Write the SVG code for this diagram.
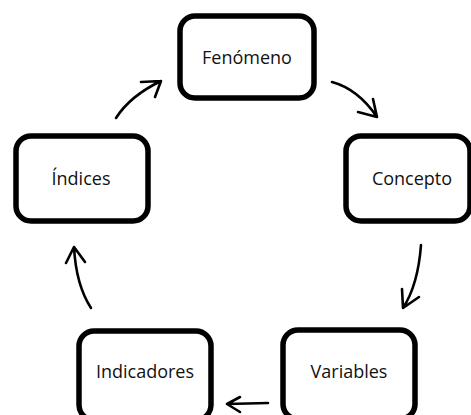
<svg xmlns="http://www.w3.org/2000/svg" width="471" height="415" viewBox="0 0 471 415">
<style>
.box{fill:#fff;stroke:#000;stroke-width:5.5}
.lbl{font-family:"Open Sans","Noto Sans",sans-serif;font-size:18px;fill:#111;text-anchor:middle}
.arr{fill:none;stroke:#000;stroke-width:2.6;stroke-linecap:round;stroke-linejoin:round}
</style>
<rect width="471" height="415" fill="#fff"/>
<g id="connectors">
<path class="arr" d="M332,82 Q358,89 377,117 M358,112 L377,117 L373,99"/>
<path class="arr" d="M421,245 Q418,285 403,308 M402,289 L403,308 L419,297"/>
<path class="arr" d="M268,403 L227,404 M240,397 L227,404 L240,412"/>
<path class="arr" d="M91,308 Q76,285 74,247 M66,263 L74,247 L85,262"/>
<path class="arr" d="M116,118 Q130,96 161,81 M141,82 L161,81 L155,97"/>
</g>
<g id="fenomeno">
<rect class="box" x="180" y="16" width="134" height="82" rx="15"/>
<text class="lbl" x="247" y="64">Fenómeno</text>
</g>
<g id="concepto">
<rect class="box" x="346" y="136" width="124" height="85" rx="15"/>
<text class="lbl" x="412" y="185">Concepto</text>
</g>
<g id="variables">
<rect class="box" x="283" y="330" width="132" height="89" rx="15"/>
<text class="lbl" x="349" y="378">Variables</text>
</g>
<g id="indicadores">
<rect class="box" x="79" y="331" width="132" height="89" rx="15"/>
<text class="lbl" x="145" y="378">Indicadores</text>
</g>
<g id="indices">
<rect class="box" x="16" y="136" width="132" height="85" rx="15"/>
<text class="lbl" x="81" y="185">Índices</text>
</g>
</svg>
